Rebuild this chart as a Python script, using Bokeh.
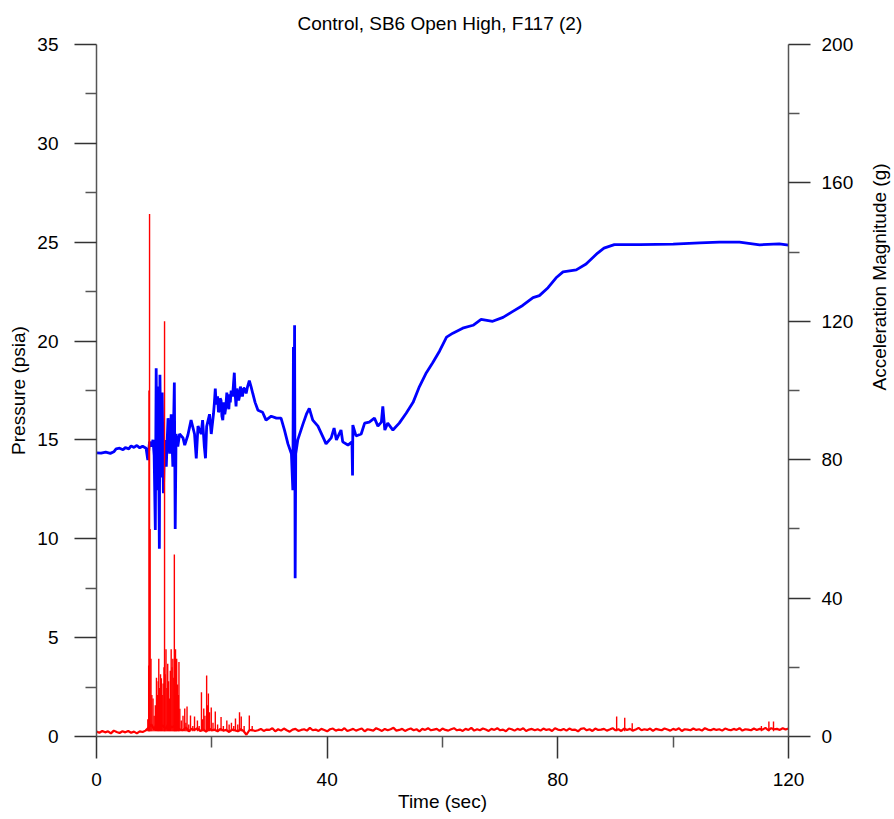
import math
from bokeh.plotting import figure
from bokeh.models import Range1d, LinearAxis, FixedTicker, ColumnDataSource
from bokeh.embed import file_html
from bokeh.resources import INLINE

# ---------------- data ----------------
title_text = "Control, SB6 Open High,  F117 (2)"
x_label = "Time (sec)"
y_label = "Pressure (psia)"
y2_label = "Acceleration Magnitude (g)"

x_ticks = [0, 40, 80, 120]
x_minor = [20, 60, 100]
y_ticks = [0, 5, 10, 15, 20, 25, 30, 35]
y_minor = [2.5, 7.5, 12.5, 17.5, 22.5, 27.5, 32.5]
y2_ticks = [0, 40, 80, 120, 160, 200]
y2_minor = [20, 60, 100, 140, 180]

# Pressure (psia) trace
press_t = [0.0, 0.8, 1.6, 2.4, 3.0, 3.4, 4.0, 4.6, 5.0, 5.6, 6.0, 6.5, 7.0, 7.5, 8.0, 8.6, 8.9, 9.2,
           9.5, 9.8, 10.0, 10.2, 10.35, 10.5, 10.7, 10.9, 11.0, 11.2, 11.4, 11.6, 11.8, 12.1, 12.4,
           12.7, 12.95, 13.24, 13.5, 13.65, 13.8, 14.1, 14.4, 15.0, 15.3, 15.85, 16.4, 17.0, 17.3,
           17.6, 18.15, 18.4, 18.7, 18.9, 19.1, 19.6, 19.9,
           20.3, 20.45, 20.6, 20.75, 20.9, 21.0, 21.15, 21.3, 21.45, 21.6, 21.75, 21.9, 22.1, 22.25,
           22.4, 22.6, 22.75, 22.95, 23.1, 23.2, 23.35, 23.6, 23.75, 23.9, 24.05, 24.2, 24.35, 24.5,
           24.65, 24.8, 24.95, 25.1, 25.3, 25.5, 25.7, 25.95, 26.2, 26.5, 26.8, 27.1, 27.5,
           28.0, 28.8, 29.4, 30.3, 31.2,
           32.0, 32.6, 33.2, 33.8, 34.05, 34.15, 34.25, 34.35, 34.45, 34.55, 34.9, 35.8, 36.4, 36.9,
           37.5, 38.4, 39.5, 39.8, 40.7, 41.2, 41.6, 42.4, 42.7, 43.6, 44.3, 44.4, 44.45, 45.0, 45.9,
           46.5, 47.3, 48.2, 48.8, 49.4, 49.65, 50.0, 50.5, 51.4, 52.5, 53.7, 54.9, 56.0, 57.2, 58.3,
           59.5, 60.7, 61.8, 63.5, 65.3, 66.7, 68.7, 70.5, 72.2, 73.9, 75.7, 76.8, 78.3, 79.7, 80.9,
           83.2, 84.9, 86.9, 88.0, 89.8, 94.2, 100.0, 104.6, 108.0, 111.5, 115.0, 118.4, 120.0]
press_psia = [14.35, 14.33, 14.38, 14.32, 14.40, 14.55, 14.58, 14.50, 14.62, 14.55, 14.70, 14.62, 14.72,
              14.60, 14.68, 14.58, 13.98, 14.91,
              14.66, 15.0, 14.2, 10.44, 18.62, 12.46, 17.7, 9.5, 18.3, 13.1, 17.4, 12.3, 15.0, 13.65, 16.1,
              14.3, 16.3, 13.65, 17.9, 10.5, 15.3, 14.66, 15.3, 15.1, 14.74, 15.25, 16.0, 15.3, 14.07,
              15.7, 15.3, 16.0, 14.66, 14.07, 15.67, 16.3, 15.3,
              16.35, 16.9, 17.6, 16.8, 17.0, 17.2, 16.4, 16.5, 17.1, 17.0, 16.2, 16.0, 16.9, 16.3,
              16.6, 17.4, 16.8, 16.55, 17.3, 16.9, 17.5, 17.2, 17.8, 18.4, 17.3, 16.7, 17.6, 17.35,
              17.0, 17.2, 17.7, 17.5, 17.2, 17.6, 17.6, 17.35, 17.7, 18.0, 17.7, 17.35, 16.9,
              16.5, 16.4, 16.0, 16.2, 16.1,
              16.1, 15.5, 14.8, 14.3, 12.46, 19.7, 14.0, 20.8, 8.0, 14.3, 15.0, 15.8, 16.3, 16.6,
              16.0, 15.7, 15.0, 14.8, 15.1, 15.6, 15.0, 15.5, 14.9, 14.74, 14.9, 13.2, 15.75, 15.2, 15.3,
              15.85, 15.9, 16.1, 15.7, 15.9, 16.7, 15.5, 15.85, 15.5, 15.85, 16.35, 16.9, 17.7, 18.4, 18.9,
              19.5, 20.2, 20.4, 20.65, 20.8, 21.1, 21.0, 21.2, 21.5, 21.8, 22.2, 22.3, 22.7, 23.2, 23.5,
              23.6, 23.9, 24.45, 24.7, 24.88, 24.88, 24.9, 24.97, 25.0, 25.0, 24.87, 24.92, 24.85]

# Acceleration (g): baseline samples every 0.5 s from 0 to 120 s
acc_base_g = [
    1.4, 1.1, 1.6, 1.2, 1.5, 0.9, 1.7, 1.3, 1.0, 1.5, 1.2, 1.6, 1.1, 1.4, 0.9, 1.5, 1.3, 1.7,
    2.5, 3.5, 2.0, 4.0, 2.8, 3.2, 2.2, 3.8, 2.6, 3.0, 2.4, 2.0, 1.8, 2.6, 1.5, 2.2, 1.9, 2.4, 1.6,
    2.1, 1.4, 2.3, 1.8, 2.0, 1.5, 2.2, 1.7, 1.9, 1.3, 2.0, 1.8, 1.5, 2.1, 1.6, 0.5, 1.8, 1.9, 1.6,
    1.8, 2.2, 1.6, 2.0, 1.9, 2.4, 1.5, 2.1, 1.7, 2.3, 1.8, 1.4, 2.0, 2.2, 1.6, 1.9, 2.1, 1.7, 2.5, 1.8,
    2.0, 1.6, 2.2, 1.9, 1.5, 2.1, 2.3, 1.7, 2.0, 1.8, 2.4, 1.6, 1.9, 2.2, 1.7, 2.0, 2.3, 1.5, 2.1, 1.9,
    1.7, 2.4, 2.0, 1.6, 2.2, 1.8, 2.1, 2.5, 1.7, 1.9, 2.2, 1.6, 2.0, 2.3, 1.8, 2.1, 1.5, 2.2, 1.9, 2.4,
    1.8, 2.0, 2.2, 1.6, 2.3, 1.9, 1.7, 2.1, 2.4, 1.8, 2.0, 1.6, 2.2, 1.9, 2.5, 1.7, 2.1, 1.8, 2.3, 2.0,
    1.6, 2.2, 1.9, 2.4, 1.8, 2.0, 1.5, 2.3, 2.1, 1.7, 2.2, 1.9, 2.4, 1.6, 2.0, 2.2, 1.8, 2.1, 1.7, 2.3,
    1.9, 2.1, 1.6, 2.4, 2.0, 1.8, 2.2, 1.7, 2.3, 1.9, 2.0, 1.5, 2.2, 2.4, 1.8, 2.1, 1.6, 2.3, 1.9, 2.0,
    2.2, 1.7, 2.0, 2.4, 1.8, 2.1, 1.6, 2.3, 1.9, 2.2, 1.7, 2.0, 2.5, 1.8, 2.1, 1.9, 2.3, 1.6, 2.2, 2.0,
    1.8, 2.3, 2.0, 1.7, 2.2, 1.9, 2.4, 1.6, 2.1, 2.0, 1.8, 2.3, 1.9, 2.1, 1.7, 2.4, 2.0, 1.8, 2.2, 1.9,
    2.1, 1.7, 2.3, 2.0, 1.8, 2.2, 1.9, 2.4, 1.7, 2.1, 2.0, 1.8, 2.3, 1.9, 2.2, 2.0, 2.5, 1.8, 2.4, 2.1,
    2.2, 1.9, 2.4, 2.0, 2.3]
acc_base_t = [i * 0.5 for i in range(len(acc_base_g))]

# Acceleration spikes (time s, peak g)
acc_spike_t = [8.9, 9.05, 9.1, 9.2, 9.3, 9.45, 9.6, 9.8, 10.0, 10.2, 10.4, 10.55, 10.7, 10.8, 10.95,
               11.1, 11.25, 11.4, 11.55, 11.7, 11.8, 11.9, 12.05, 12.2, 12.35, 12.5, 12.65, 12.8, 12.95,
               13.1, 13.24, 13.4, 13.5, 13.6, 13.7, 13.8, 13.9, 14.05, 14.2, 14.3, 14.45, 14.7, 15.0,
               15.3, 15.5, 15.7, 16.0, 16.3, 16.7, 17.0, 17.5, 17.8, 18.2, 18.4, 18.6, 18.8, 19.1,
               19.25, 19.4, 19.6, 19.9, 20.2, 20.6, 21.0, 21.6, 22.0, 22.6, 23.0, 23.4, 23.8, 24.1,
               24.5, 24.8, 25.1, 25.6, 26.5, 27.0, 90.2, 91.6, 92.9, 115.3, 116.6, 117.4]
acc_spike_g = [5, 20.5, 100, 151, 60, 22.5, 12, 11, 6, 9, 17, 12, 16, 22.5, 14,
               18, 16.8, 12, 15.3, 20, 120, 18, 25.2, 14, 21, 16, 11, 19, 25.2,
               20, 22.5, 17, 52.6, 24, 25.2, 18, 22.5, 15, 12, 21.5, 8, 4.6, 6,
               8.1, 4, 8.7, 3.5, 6.1, 3, 5.8, 4.6, 3, 12.8, 5, 8.1, 6, 17.6,
               9, 12.4, 7, 8.4, 4, 7.2, 3.5, 5.6, 3, 4.6, 3.5, 4, 3, 5.2,
               3.5, 7.0, 5.8, 3, 6.1, 3, 5.8, 5.4, 3.8, 3.0, 4.3, 4.3]

# ---------------- figure ----------------
FONT = "Liberation Sans"
BLUE = "#0000FF"
RED = "#FF0000"

p = figure(frame_width=692, frame_height=692,
           min_border_left=96, min_border_top=44, min_border_right=104, min_border_bottom=72,
           x_range=Range1d(0, 120), y_range=Range1d(0, 35),
           output_backend="svg", toolbar_location=None, title=title_text)
p.extra_y_ranges = {"acc": Range1d(0, 200)}
p.outline_line_color = None
p.xgrid.visible = False
p.ygrid.visible = False
p.background_fill_color = "white"
p.border_fill_color = "white"

p.title.text_font = FONT
p.title.text_font_size = "19px"
p.title.text_font_style = "normal"
p.title.align = "center"
p.title.text_color = "black"
p.title.standoff = 17
p.title.vertical_align = "top"

right_axis = LinearAxis(y_range_name="acc")
p.add_layout(right_axis, "right")

def style_axis(ax, ticks, minor, label):
    ax.ticker = FixedTicker(ticks=ticks, minor_ticks=minor)
    ax.axis_label = label
    ax.axis_label_text_font = FONT
    ax.axis_label_text_font_size = "19px"
    ax.axis_label_text_font_style = "normal"
    ax.axis_label_text_color = "black"
    ax.major_label_text_font = FONT
    ax.major_label_text_font_size = "19px"
    ax.major_label_text_color = "black"
    ax.axis_line_color = "#555555"
    ax.axis_line_width = 1.5
    ax.major_tick_line_color = "#333333"
    ax.minor_tick_line_color = "#555555"
    ax.major_tick_line_width = 1.5
    ax.minor_tick_line_width = 1.5
    ax.major_tick_in = 0
    ax.major_tick_out = 22
    ax.minor_tick_in = 0
    ax.minor_tick_out = 11
    ax.major_label_standoff = 12

style_axis(p.xaxis[0], x_ticks, x_minor, x_label)
style_axis(p.yaxis[0], y_ticks, y_minor, y_label)
style_axis(right_axis, y2_ticks, y2_minor, y2_label)
p.xaxis[0].major_label_standoff = 14
p.xaxis[0].axis_label_standoff = 2
p.yaxis[0].major_label_standoff = 16
p.yaxis[0].axis_label_standoff = 5
right_axis.major_label_standoff = 11
right_axis.axis_label_standoff = 23
right_axis.axis_label_orientation = math.pi / 2

# pressure
p.line(press_t, press_psia, line_color=BLUE, line_width=2.8)

# acceleration baseline and spikes
p.line(acc_base_t, acc_base_g, line_color=RED, line_width=2.2, y_range_name="acc")
spk = ColumnDataSource(dict(t=acc_spike_t, g=acc_spike_g, b=[1.5] * len(acc_spike_t)))
p.segment(x0="t", y0="b", x1="t", y1="g", source=spk, line_color=RED, line_width=1.4,
          y_range_name="acc")

open("out.html", "w").write(file_html(p, INLINE))
